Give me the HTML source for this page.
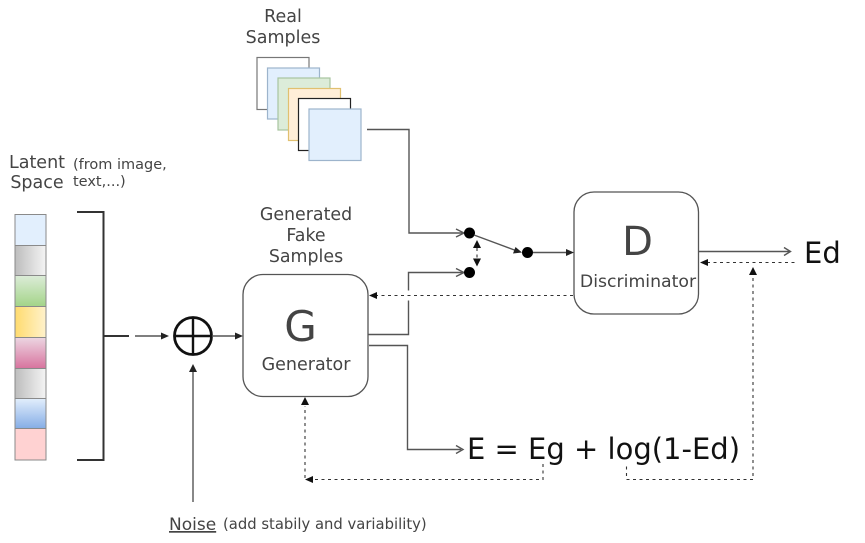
<!DOCTYPE html>
<html><head><meta charset="utf-8"><style>
html,body{margin:0;padding:0;background:#fff;width:865px;height:543px;overflow:hidden}
svg{display:block}
text{font-family:"DejaVu Sans","Liberation Sans",sans-serif;fill:#444}
.l{fill:none;stroke:#555;stroke-width:1.4}
.d{fill:none;stroke:#333;stroke-width:1.1;stroke-dasharray:3 3.5}
</style></head><body>
<svg width="865" height="543" viewBox="0 0 865 543" xmlns="http://www.w3.org/2000/svg">
<defs>
<linearGradient id="gr" x1="0" x2="1" y1="0" y2="0"><stop offset="0" stop-color="#bdbdbd"/><stop offset="1" stop-color="#f4f4f4"/></linearGradient>
<linearGradient id="gn" x1="0" x2="0" y1="0" y2="1"><stop offset="0" stop-color="#dcecd8"/><stop offset="1" stop-color="#a3d488"/></linearGradient>
<linearGradient id="ye" x1="0" x2="1" y1="0" y2="0"><stop offset="0" stop-color="#ffdb6e"/><stop offset="1" stop-color="#fff2cc"/></linearGradient>
<linearGradient id="pk" x1="0" x2="0" y1="0" y2="1"><stop offset="0" stop-color="#ecd6e2"/><stop offset="1" stop-color="#d8739e"/></linearGradient>
<linearGradient id="bl" x1="0" x2="0" y1="0" y2="1"><stop offset="0" stop-color="#e2eefc"/><stop offset="1" stop-color="#85ade6"/></linearGradient>
</defs>

<!-- real samples -->
<text x="283" y="22" font-size="17.500" text-anchor="middle">Real</text>
<text x="283" y="43" font-size="17.500" text-anchor="middle">Samples</text>
<rect x="257" y="57.500" width="52" height="52" fill="#fff" stroke="#777" stroke-width="1.2"/>
<rect x="267.500" y="68" width="52" height="51" fill="#e2effd" stroke="#9db4cc" stroke-width="1.2"/>
<rect x="278" y="78" width="52" height="52" fill="#dcecd9" stroke="#a8c4a0" stroke-width="1.2"/>
<rect x="288.500" y="88.500" width="52" height="52" fill="#ffeed8" stroke="#e0c070" stroke-width="1.2"/>
<rect x="298.500" y="98.500" width="52" height="52" fill="#fff" stroke="#222" stroke-width="1.2"/>
<rect x="309" y="109" width="52" height="51.500" fill="#e2effd" stroke="#9db4cc" stroke-width="1.2"/>

<!-- latent -->
<text x="37" y="168" font-size="17.500" text-anchor="middle">Latent</text>
<text x="37" y="188" font-size="17.500" text-anchor="middle">Space</text>
<text x="73" y="169" font-size="14.500">(from image,</text>
<text x="73" y="186" font-size="14.500">text,...)</text>
<g stroke="#8a8a8a" stroke-width="1">
<rect x="15" y="214.500" width="31" height="31" fill="#e2effd"/>
<rect x="15" y="245.500" width="31" height="30" fill="url(#gr)"/>
<rect x="15" y="275.500" width="31" height="31" fill="url(#gn)"/>
<rect x="15" y="306.500" width="31" height="31" fill="url(#ye)"/>
<rect x="15" y="337.500" width="31" height="31" fill="url(#pk)"/>
<rect x="15" y="368.500" width="31" height="30" fill="url(#gr)"/>
<rect x="15" y="398.500" width="31" height="30" fill="url(#bl)"/>
<rect x="15" y="428.500" width="31" height="31.500" fill="#ffd2d2"/>
</g>
<path d="M77 212H103.500V460H77" fill="none" stroke="#333" stroke-width="2"/>
<path d="M103.500 336H129" fill="none" stroke="#333" stroke-width="2"/>
<path class="l" d="M135 336H164"/>
<path d="M169 336L161 332.500V339.500Z" fill="#222"/>
<circle cx="193" cy="336" r="18.500" fill="none" stroke="#111" stroke-width="2.800"/>
<path d="M174 336H212M193 317V355" stroke="#111" stroke-width="2.400"/>
<path class="l" d="M212 336H238"/>
<path d="M243 336L235 332.500V339.500Z" fill="#222"/>

<!-- noise -->
<path class="l" d="M193 502V370"/>
<path d="M193 364L189 372H197Z" fill="#222"/>
<text x="169" y="530" font-size="17" text-decoration="underline">Noise</text>
<text x="223" y="529" font-size="14.800">(add stabily and variability)</text>

<!-- G -->
<text x="306" y="220" font-size="17.400" text-anchor="middle">Generated</text>
<text x="306" y="241" font-size="17.400" text-anchor="middle">Fake</text>
<text x="306" y="262" font-size="17.400" text-anchor="middle">Samples</text>
<rect x="243" y="274.500" width="125" height="122" rx="20" fill="#fff" stroke="#555" stroke-width="1.300"/>
<text x="300.500" y="341" font-size="42" text-anchor="middle">G</text>
<text x="306" y="370" font-size="17.500" text-anchor="middle">Generator</text>

<!-- D -->
<rect x="574" y="192" width="124.500" height="122" rx="20" fill="#fff" stroke="#555" stroke-width="1.300"/>
<text x="637.500" y="255" font-size="40" text-anchor="middle">D</text>
<text x="638" y="287" font-size="17.300" text-anchor="middle">Discriminator</text>

<!-- switch -->
<path class="l" d="M367 129.500H409V233H463"/>
<path class="l" d="M456 229L464 233L456 237"/>
<circle cx="469.500" cy="233" r="5.500" fill="#000"/>
<path class="l" d="M368 334.500H408.500V272.500H463"/>
<path class="l" d="M456 268.500L464 272.500L456 276.500"/>
<circle cx="469.500" cy="272.500" r="5.500" fill="#000"/>
<path class="d" d="M477 248V258" stroke-dasharray="2.500 2.500"/>
<path d="M477 240L473 248H481ZM477 266.500L473 258.500H481Z" fill="#111"/>
<path class="l" d="M474 235L517 251"/>
<path d="M522 252.500L513 253.500L515.500 247Z" fill="#222"/>
<circle cx="527.500" cy="252.500" r="5.500" fill="#000"/>
<path class="l" d="M533 252.500H568"/>
<path d="M574 252.500L566 249V256Z" fill="#222"/>
<path d="M405 295.500H412" stroke="#fff" stroke-width="10"/>
<path d="M375 295.500H573" class="d" stroke-dasharray="3.500 3.500"/>
<path d="M369 295.500L377 292V299Z" fill="#111"/>

<!-- E lines -->
<path class="l" d="M369 345.500H407.500V449.500H461"/>
<path class="l" d="M456 445.500L463 449.500L456 453.500"/>
<text x="467" y="459" font-size="29" style="fill:#111">E = Eg + log(1-Ed)</text>

<!-- Ed -->
<path class="l" d="M698.500 251.500H790" stroke-width="1.600"/>
<path class="l" d="M784 247.500L790.500 251.500L784 255.500"/>
<text x="804" y="263" font-size="29" style="fill:#111">Ed</text>
<path class="d" d="M707 262.500H797"/>
<path d="M700 262.500L708 259V266Z" fill="#111"/>

<!-- feedback dashed -->
<path class="d" d="M753 278V479.500H626.500V464"/>
<path d="M753 267L749 275H757Z" fill="#111"/>
<path class="d" d="M543 464V479.500H313"/>
<path d="M305 479.500L313 476V483Z" fill="#111"/>
<path class="d" d="M305 478V406"/>
<path d="M305 397L301 405H309Z" fill="#111"/>
</svg>
</body></html>
